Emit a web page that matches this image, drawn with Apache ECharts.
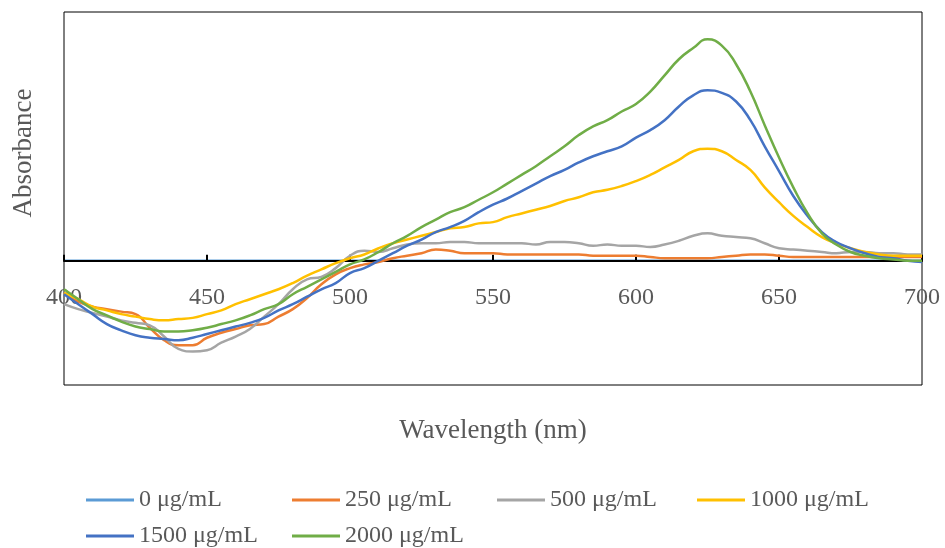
<!DOCTYPE html>
<html>
<head>
<meta charset="utf-8">
<script src="https://cdn.jsdelivr.net/npm/echarts@6/dist/echarts.min.js"></script>
<style>
  html, body { margin: 0; padding: 0; background: #fff; }
  #chart { width: 945px; height: 548px; }
</style>
</head>
<body>
<div id="chart"></div>
<script>
var wavelengths = [400,405,410,415,420,425,430,435,440,445,450,455,460,465,470,475,480,485,490,495,
  500,505,510,515,520,525,530,535,540,545,550,555,560,565,570,575,580,585,590,595,
  600,605,610,615,620,625,630,635,640,645,650,655,660,665,670,675,680,685,690,695,700]

var names = ['0 μg/mL', '250 μg/mL', '500 μg/mL', '1000 μg/mL', '1500 μg/mL', '2000 μg/mL']
var colors = ['#5B9BD5', '#ED7D31', '#A5A5A5', '#FFC000', '#4472C4', '#70AD47']

var c0 = [0,0,0,0,0,0,0,0,0,0, 0,0,0,0,0,0,0,0,0,0, 0,0,0,0,0,0,0,0,0,0,
  0,0,0,0,0,0,0,0,0,0, 0,0,0,0,0,0,0,0,0,0, 0,0,0,0,0,0,0,0,0,0,0]
var c250 = [-0.026,-0.033,-0.037,-0.039,-0.041,-0.043,-0.054,-0.064,-0.068,-0.068,
  -0.062,-0.058,-0.055,-0.052,-0.051,-0.045,-0.039,-0.030,-0.019,-0.011,
  -0.006,-0.003,-0.001,0.002,0.004,0.006,0.009,0.008,0.006,0.006,
  0.006,0.005,0.005,0.005,0.005,0.005,0.005,0.004,0.004,0.004,
  0.004,0.003,0.002,0.002,0.002,0.002,0.003,0.004,0.005,0.005,
  0.004,0.003,0.003,0.003,0.003,0.003,0.003,0.003,0.003,0.003,0.003]
var c500 = [-0.035,-0.039,-0.042,-0.045,-0.048,-0.050,-0.052,-0.061,-0.071,-0.073,
  -0.072,-0.066,-0.061,-0.055,-0.045,-0.035,-0.023,-0.015,-0.013,-0.006,
  0.004,0.008,0.007,0.010,0.013,0.014,0.014,0.015,0.015,0.014,
  0.014,0.014,0.014,0.013,0.015,0.015,0.014,0.012,0.013,0.012,
  0.012,0.011,0.013,0.016,0.020,0.022,0.020,0.019,0.018,0.014,
  0.010,0.009,0.008,0.007,0.006,0.007,0.007,0.006,0.006,0.005,0.005]
var c1000 = [-0.026,-0.031,-0.037,-0.040,-0.043,-0.045,-0.047,-0.048,-0.047,-0.046,
  -0.043,-0.040,-0.035,-0.031,-0.027,-0.023,-0.018,-0.012,-0.007,-0.002,
  0.002,0.005,0.010,0.014,0.017,0.020,0.023,0.026,0.027,0.030,
  0.031,0.035,0.038,0.041,0.044,0.048,0.051,0.055,0.057,0.060,
  0.064,0.069,0.075,0.081,0.088,0.090,0.088,0.081,0.073,0.059,
  0.047,0.036,0.027,0.019,0.014,0.010,0.007,0.005,0.004,0.004,0.004]
var c1500 = [-0.027,-0.035,-0.043,-0.051,-0.056,-0.060,-0.062,-0.063,-0.064,-0.062,
  -0.059,-0.056,-0.053,-0.050,-0.046,-0.040,-0.035,-0.029,-0.023,-0.018,
  -0.010,-0.006,0.000,0.006,0.012,0.017,0.023,0.027,0.032,0.039,
  0.045,0.050,0.056,0.062,0.068,0.073,0.079,0.084,0.088,0.092,
  0.099,0.105,0.113,0.124,0.133,0.137,0.135,0.128,0.113,0.092,
  0.072,0.052,0.036,0.023,0.015,0.010,0.006,0.003,0.002,0.000,-0.001]
var c2000 = [-0.023,-0.031,-0.039,-0.044,-0.049,-0.053,-0.055,-0.057,-0.057,-0.056,
  -0.054,-0.051,-0.048,-0.044,-0.039,-0.035,-0.027,-0.021,-0.015,-0.009,
  -0.003,0.001,0.007,0.014,0.020,0.027,0.033,0.039,0.043,0.049,
  0.055,0.062,0.069,0.076,0.084,0.092,0.101,0.108,0.113,0.120,
  0.126,0.136,0.149,0.162,0.171,0.178,0.173,0.158,0.136,0.109,
  0.083,0.059,0.038,0.022,0.013,0.007,0.004,0.002,0.001,0.000,0.000]

var xTicks = [400, 450, 500, 550, 600, 650, 700]

function pairs(vals) {
    var out = []
    for (var i = 0; i < wavelengths.length; i++) out.push([wavelengths[i], vals[i]])
    return out
}

var allData = [c0, c250, c500, c1000, c1500, c2000]
var font = 'Liberation Serif'
var grey = '#595959'

var chart = echarts.init(document.getElementById('chart'))

var series = []
var legends = []
var legendPos = [[86, 488], [292, 488], [497, 488], [697, 488], [86, 524], [292, 524]]
for (var k = 0; k < names.length; k++) {
    series.push({
        name: names[k],
        type: 'line',
        // the 0 line sits under the black axis line, the others above it
        z: k === 0 ? 0 : 3,
        data: pairs(allData[k]),
        smooth: true,
        symbol: 'none',
        lineStyle: { color: colors[k], width: 2.5 },
        itemStyle: { color: colors[k] }
    })
    legends.push({
        data: [names[k]],
        left: legendPos[k][0],
        top: legendPos[k][1],
        padding: 0,
        icon: 'rect',
        itemWidth: 48,
        itemHeight: 3,
        textStyle: { fontFamily: font, fontSize: 24, color: grey }
    })
}

var option = {
    animation: false,
    grid: {
        left: 64,
        right: 23,
        top: 12,
        bottom: 163,
        outerBoundsMode: 'none',
        show: true,
        borderColor: '#000',
        borderWidth: 1
    },
    legend: legends,
    xAxis: {
        type: 'value',
        min: xTicks[0],
        max: xTicks[xTicks.length - 1],
        interval: 50,
        z: 1,
        name: 'Wavelength (nm)',
        nameLocation: 'middle',
        nameGap: 32,
        nameTextStyle: { fontFamily: font, fontSize: 27, color: grey },
        axisLine: { onZero: true, lineStyle: { color: '#000', width: 2 } },
        axisTick: { inside: true, length: 6, lineStyle: { color: '#000', width: 2 } },
        axisLabel: { margin: -99, fontFamily: font, fontSize: 24, color: grey },
        splitLine: { show: false }
    },
    yAxis: {
        type: 'value',
        min: -0.1,
        max: 0.2,
        axisLine: { show: false },
        axisTick: { show: false },
        axisLabel: { show: false },
        splitLine: { show: false }
    },
    graphic: [{
        type: 'text',
        x: 24,
        y: 153,
        rotation: Math.PI / 2,
        style: {
            text: 'Absorbance',
            fontFamily: font,
            fontSize: 27,
            fill: grey,
            align: 'center',
            verticalAlign: 'middle'
        }
    }],
    series: series
}

chart.setOption(option)
window.addEventListener('resize', function () {
    chart.resize()
})
</script>
</body>
</html>
